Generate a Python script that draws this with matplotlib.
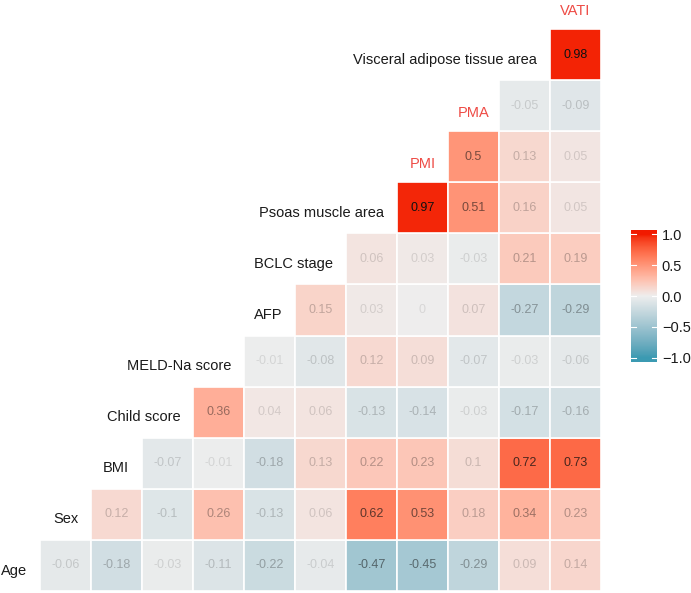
import numpy as np
import matplotlib.pyplot as plt
from matplotlib.colors import LinearSegmentedColormap, Normalize
from matplotlib.patches import Rectangle

plt.rcParams["font.family"] = ["Liberation Sans", "DejaVu Sans"]

# Variables, bottom row first
variables = ["Age", "Sex", "BMI", "Child score", "MELD-Na score", "AFP",
             "BCLC stage", "Psoas muscle area", "PMI", "PMA",
             "Visceral adipose tissue area", "VATI"]
highlighted = ["PMI", "PMA", "VATI"]

# Each row: correlations of that variable with the variables after it
age = [-0.06, -0.18, -0.03, -0.11, -0.22, -0.04, -0.47, -0.45, -0.29, 0.09, 0.14]
sex = [0.12, -0.1, 0.26, -0.13, 0.06, 0.62, 0.53, 0.18, 0.34, 0.23]
bmi = [-0.07, -0.01, -0.18, 0.13, 0.22, 0.23, 0.1, 0.72, 0.73]
child = [0.36, 0.04, 0.06, -0.13, -0.14, -0.03, -0.17, -0.16]
meld = [-0.01, -0.08, 0.12, 0.09, -0.07, -0.03, -0.06]
afp = [0.15, 0.03, 0, 0.07, -0.27, -0.29]
bclc = [0.06, 0.03, -0.03, 0.21, 0.19]
psoas = [0.97, 0.51, 0.16, 0.05]
pmi = [0.5, 0.13, 0.05]
pma = [-0.05, -0.09]
vat = [0.98]
rows = [age, sex, bmi, child, meld, afp, bclc, psoas, pmi, pma, vat]

cbar_ticks = [1.0, 0.5, 0.0, -0.5, -1.0]
cbar_labels = ["1.0", "0.5", "0.0", "\u22120.5", "\u22121.0"]


# ggplot-style diverging gradient (interpolated in CIELAB)
def hex_to_lab(h):
    rgb = np.array([int(h[i:i + 2], 16) / 255 for i in (1, 3, 5)])
    lin = np.where(rgb <= 0.04045, rgb / 12.92, ((rgb + 0.055) / 1.055) ** 2.4)
    m = np.array([[0.4124, 0.3576, 0.1805],
                  [0.2126, 0.7152, 0.0722],
                  [0.0193, 0.1192, 0.9505]])
    xyz = m @ lin / np.array([0.95047, 1.0, 1.08883])
    d = 6 / 29
    f = np.where(xyz > d ** 3, np.cbrt(xyz), xyz / (3 * d * d) + 4 / 29)
    return np.array([116 * f[1] - 16, 500 * (f[0] - f[1]), 200 * (f[1] - f[2])])


def lab_to_rgb(lab):
    L, a, b = lab
    fy = (L + 16) / 116
    fx = fy + a / 500
    fz = fy - b / 200
    d = 6 / 29
    f = np.array([fx, fy, fz])
    xyz = np.where(f > d, f ** 3, 3 * d * d * (f - 4 / 29)) * np.array([0.95047, 1.0, 1.08883])
    m = np.array([[3.2406, -1.5372, -0.4986],
                  [-0.9689, 1.8758, 0.0415],
                  [0.0557, -0.2040, 1.0570]])
    lin = m @ xyz
    rgb = np.where(lin <= 0.0031308, 12.92 * lin, 1.055 * np.clip(lin, 0, None) ** (1 / 2.4) - 0.055)
    return np.clip(rgb, 0, 1)


low, mid, high = hex_to_lab("#3B9AB2"), hex_to_lab("#EEEEEE"), hex_to_lab("#F21A00")
stops = []
for t in np.linspace(-1, 1, 257):
    end = low if t < 0 else high
    stops.append(lab_to_rgb(mid + abs(t) * (end - mid)))
cmap = LinearSegmentedColormap.from_list("corr", stops)
norm = Normalize(vmin=-1, vmax=1, clip=True)

fig = plt.figure(figsize=(6.91, 5.93), dpi=100)
ax = fig.add_axes([0, 0, 1, 1])
ax.set_xlim(-0.284, 13.265)
ax.set_ylim(-0.539, 11.068)
ax.axis("off")

max_abs = max(abs(v) for r in rows for v in r)
for i, vals in enumerate(rows):
    for k, v in enumerate(vals):
        j = i + 1 + k
        ax.add_patch(Rectangle((j - 0.5, i - 0.5), 1, 1, facecolor=cmap(norm(v)),
                               edgecolor="white", linewidth=1.2))
        alpha = 0.1 + 0.9 * abs(v) / max_abs
        ax.text(j, i, f"{v:g}", ha="center", va="center", fontsize=9,
                color="#111111", alpha=alpha)

for i, name in enumerate(variables):
    if name in highlighted:
        ax.text(i, i - 0.14, name, ha="center", va="center", fontsize=10.5,
                color="#EE4B45")
    else:
        ax.text(i + 0.25, i - 0.1, name, ha="right", va="center", fontsize=10.5,
                color="#1a1a1a")

# colour bar
cax = fig.add_axes([631 / 691, (593 - 362) / 593, 26 / 691, 132 / 593])
grad = np.linspace(-1.065, 1.065, 300).reshape(-1, 1)
cax.imshow(grad, aspect="auto", cmap=cmap, norm=norm, origin="lower",
           extent=[0, 1, -1.065, 1.065])
cax.set_xlim(0, 1)
cax.set_ylim(-1.065, 1.065)
for t in cbar_ticks:
    cax.plot([0, 0.2], [t, t], color="white", lw=0.8)
    cax.plot([0.8, 1], [t, t], color="white", lw=0.8)
cax.set_xticks([])
cax.yaxis.tick_right()
cax.set_yticks(cbar_ticks)
cax.set_yticklabels(cbar_labels)
cax.tick_params(axis="y", length=0, pad=3.5, labelsize=10.5, labelcolor="#1a1a1a")
for s in cax.spines.values():
    s.set_visible(False)

fig.savefig("out.png", dpi=100)
